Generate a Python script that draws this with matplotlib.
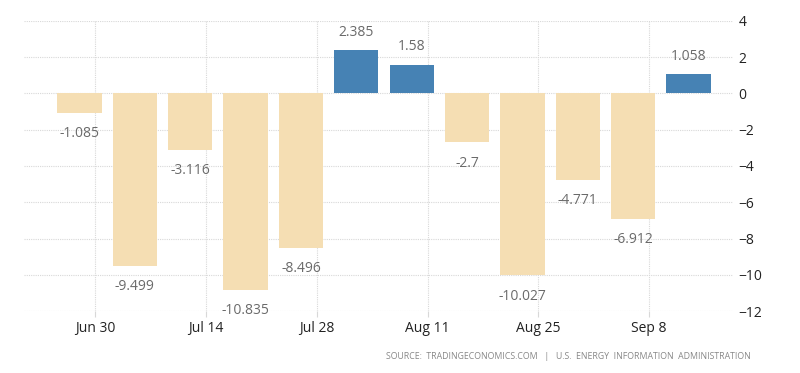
import numpy as np
import matplotlib.pyplot as plt
import matplotlib.dates as mdates
import datetime as dt

# weekly changes
dates = [dt.datetime(2014, 6, 28) + dt.timedelta(days=7 * i) for i in range(12)]
values = [-1.085, -9.499, -3.116, -10.835, -8.496, 2.385, 1.58, -2.7,
          -10.027, -4.771, -6.912, 1.058]
labels = ["-1.085", "-9.499", "-3.116", "-10.835", "-8.496", "2.385", "1.58",
          "-2.7", "-10.027", "-4.771", "-6.912", "1.058"]
xticks = [dt.datetime(2014, 6, 30) + dt.timedelta(days=14 * i) for i in range(6)]
yticks = [4, 2, 0, -2, -4, -6, -8, -10, -12]

plt.rcParams['font.family'] = ['Open Sans', 'DejaVu Sans']

fig = plt.figure(figsize=(8, 3.73), dpi=100)
ax = fig.add_axes([0.03, 0.166, 0.886, 0.778])

colors = ["#4682b4" if v > 0 else "#f5deb3" for v in values]
xnum = mdates.date2num(dates)
ax.bar(xnum, values, width=5.6, color=colors, zorder=2)

for x, v, lab in zip(xnum, values, labels):
    off = 13 if v > 0 else -15
    ax.annotate(lab, (x, v), xytext=(0, off), textcoords="offset points",
                ha="center", va="center", fontsize=10, color="#6a6a6a")

ax.set_xlim(mdates.date2num(dt.datetime(2014, 6, 21)),
            mdates.date2num(dt.datetime(2014, 9, 18, 14)))
ax.set_ylim(-12, 4)
ax.set_xticks(mdates.date2num(xticks))
ax.set_xticklabels([d.strftime("%b %-d") for d in xticks])
ax.set_yticks(yticks)
ax.yaxis.tick_right()

ax.grid(True, color="#d8d8d8", linestyle=(0, (1, 1)), linewidth=0.8, zorder=0)
for s in ax.spines.values():
    s.set_visible(False)
ax.tick_params(axis="y", length=0, pad=4, labelsize=10, labelcolor="#222222")
ax.tick_params(axis="x", length=4, color="#d8d8d8", pad=3, labelsize=10,
               labelcolor="#222222")

fig.text(0.938, 0.045,
         "SOURCE:  TRADINGECONOMICS.COM   |   U.S.  ENERGY  INFORMATION  ADMINISTRATION",
         ha="right", va="center", fontsize=6.3, color="#888888")

fig.savefig("out.png", dpi=100)
